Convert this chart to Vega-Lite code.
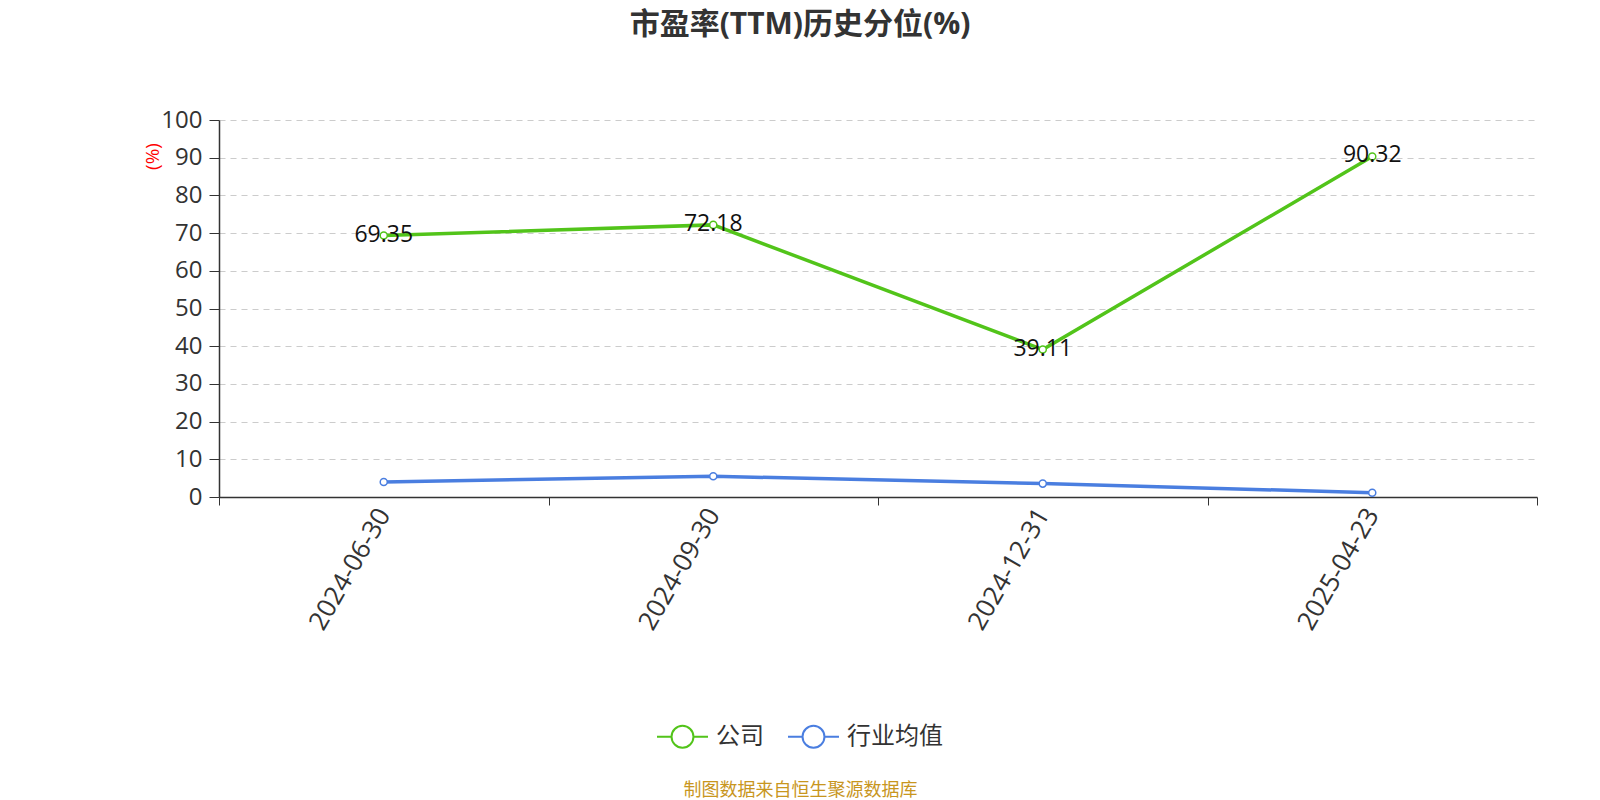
{
  "$schema": "https://vega.github.io/schema/vega-lite/v6.json",
  "width": 1318,
  "height": 377,
  "autosize": "none",
  "padding": {"left": 219, "top": 120, "right": 63, "bottom": 303},
  "background": "white",
  "config": {
    "font": "Open Sans, Noto Sans CJK SC",
    "view": {"stroke": null}
  },
  "title": {
    "text": "市盈率(TTM)历史分位(%)",
    "font": "Open Sans, Noto Sans CJK SC",
    "fontSize": 30,
    "fontWeight": "bold",
    "color": "#333333",
    "anchor": "middle",
    "dx": -78,
    "dy": -64
  },
  "data": {
    "values": [
      {"date": "2024-06-30", "series": "公司", "value": 69.35},
      {"date": "2024-09-30", "series": "公司", "value": 72.18},
      {"date": "2024-12-31", "series": "公司", "value": 39.11},
      {"date": "2025-04-23", "series": "公司", "value": 90.32},
      {"date": "2024-06-30", "series": "行业均值", "value": 4.0},
      {"date": "2024-09-30", "series": "行业均值", "value": 5.5},
      {"date": "2024-12-31", "series": "行业均值", "value": 3.55},
      {"date": "2025-04-23", "series": "行业均值", "value": 1.15}
    ]
  },
  "encoding": {
    "x": {
      "field": "date",
      "type": "nominal",
      "sort": ["2024-06-30", "2024-09-30", "2024-12-31", "2025-04-23"],
      "bandPosition": 0.5,
      "scale": {"type": "band", "paddingInner": 0, "paddingOuter": 0},
      "axis": {
        "title": "制图数据来自恒生聚源数据库",
        "titleColor": "#c8961e",
        "titleFont": "Noto Sans CJK SC",
        "titleFontSize": 18,
        "titleFontWeight": "normal",
        "titleX": 581,
        "titleY": 298,
        "titleAnchor": null,
        "titleAlign": "center",
        "titleBaseline": "alphabetic",
        "labelAngle": -60,
        "labelAlign": "right",
        "labelBaseline": "middle",
        "labelFontSize": 26,
        "labelColor": "#333333",
        "labelPadding": 5,
        "tickBand": "extent",
        "tickSize": 8,
        "tickColor": "#333333",
        "domainColor": "#333333",
        "domainWidth": 1.5,
        "grid": false
      }
    },
    "y": {
      "field": "value",
      "type": "quantitative",
      "scale": {"domain": [0, 100], "nice": false},
      "axis": {
        "title": "(%)",
        "titleColor": "red",
        "titleFontSize": 19,
        "titleFontWeight": "normal",
        "titleX": -57,
        "titleY": 36,
        "titleAlign": "center",
        "titleAngle": -90,
        "values": [0, 10, 20, 30, 40, 50, 60, 70, 80, 90, 100],
        "labelFontSize": 24,
        "labelColor": "#333333",
        "labelPadding": 7,
        "tickSize": 10,
        "tickColor": "#333333",
        "domainColor": "#333333",
        "domainWidth": 1.5,
        "grid": true,
        "gridDash": [6, 5],
        "gridColor": "#cccccc",
        "gridWidth": 1.2
      }
    },
    "color": {
      "field": "series",
      "type": "nominal",
      "scale": {"domain": ["公司", "行业均值"], "range": ["#52c41a", "#4a7ee0"]},
      "legend": {
        "title": null,
        "orient": "none",
        "direction": "horizontal",
        "legendX": 437,
        "legendY": 590,
        "symbolType": "M-1,0H-0.43M0.43,0H1M0.43,0A0.43,0.43,0,1,1,-0.43,0A0.43,0.43,0,1,1,0.43,0Z",
        "symbolSize": 2601,
        "symbolStrokeWidth": 2,
        "symbolFillColor": "white",
        "labelFont": "Noto Sans CJK SC",
        "labelFontSize": 24,
        "labelColor": "#333333",
        "labelOffset": 7,
        "columnPadding": 20,
        "encode": {"symbols": {"update": {"fill": {"value": "white"}, "fillOpacity": {"value": 1}}}}
      }
    }
  },
  "layer": [
    {
      "mark": {"type": "line", "strokeWidth": 3.5}
    },
    {
      "mark": {"type": "point", "filled": false, "fill": "white", "fillOpacity": 1, "opacity": 1, "size": 50, "strokeWidth": 1.5}
    },
    {
      "transform": [{"filter": "datum.series === '公司'"}],
      "mark": {"type": "text", "fontSize": 23, "color": "#111111", "align": "center", "baseline": "middle", "dy": -1},
      "encoding": {
        "text": {"field": "value", "type": "quantitative", "format": ".2f"},
        "color": {"value": "#111111"}
      }
    }
  ]
}
